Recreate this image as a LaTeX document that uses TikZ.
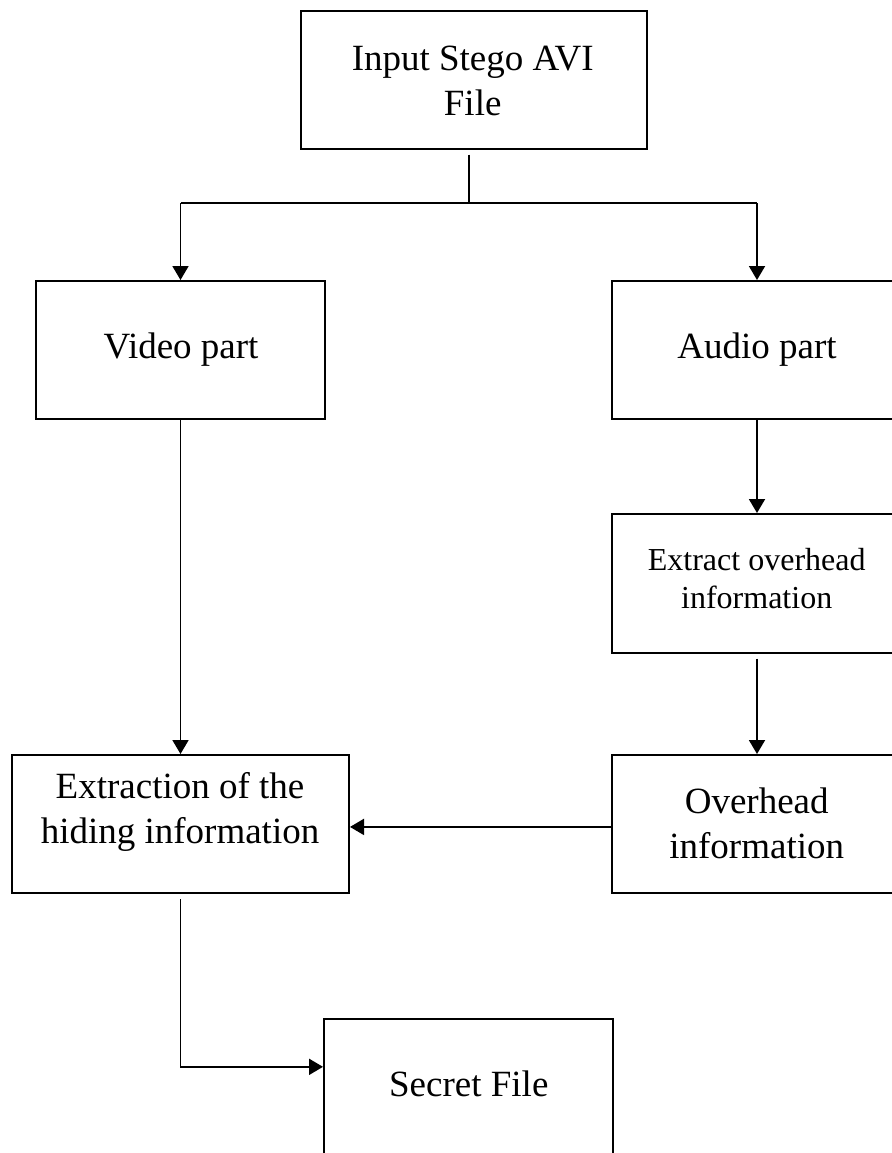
\documentclass[tikz,border=0pt]{standalone}
\usepackage{fontspec}
\setmainfont{Liberation Serif}
\usetikzlibrary{arrows.meta}
\begin{document}
\begin{tikzpicture}[x=0.75pt,y=-0.75pt,
  box/.style={draw=black,line width=1.5pt,rectangle,inner sep=0pt},
  lbl/.style={anchor=base,inner sep=0pt,font=\fontsize{27.75}{33}\selectfont},
  lbls/.style={anchor=base,inner sep=0pt,font=\fontsize{24}{28.5}\selectfont},
  conn/.style={line width=1.4pt},
  arr/.style={conn,-{Triangle[length=10.5pt,width=12pt]}}]
\useasboundingbox (0,0) rectangle (892,1153);
\clip (0,0) rectangle (892,1153);
% boxes
\node[box,minimum width=346*0.75pt,minimum height=138*0.75pt] (in) at (474,80) {};
\node[box,minimum width=289*0.75pt,minimum height=138*0.75pt] (vid) at (180.5,350) {};
\node[box,minimum width=388*0.75pt,minimum height=138*0.75pt] (aud) at (806,350) {};
\node[box,minimum width=388*0.75pt,minimum height=139*0.75pt] (eo) at (806,583.5) {};
\node[box,minimum width=337*0.75pt,minimum height=138*0.75pt] (ext) at (180.5,824) {};
\node[box,minimum width=388*0.75pt,minimum height=138*0.75pt] (oh) at (806,824) {};
\node[box,minimum width=289*0.75pt,minimum height=181*0.75pt] (sf) at (468.5,1109.5) {};
% texts
\node[lbl] (t1a) at (472.7,70.7) {Input Stego AVI};
\node[lbl] (t1b) at (472.7,115) {File};
\node[lbl] (t2) at (181,358) {Video part};
\node[lbl] (t3) at (757,358) {Audio part};
\node[lbls] (t4a) at (756.7,570) {Extract overhead};
\node[lbls] (t4b) at (756.7,608) {information};
\node[lbl] (t5a) at (180,798) {Extraction of the};
\node[lbl] (t5b) at (180,843) {hiding information};
\node[lbl] (t6a) at (756.7,813) {Overhead};
\node[lbl] (t6b) at (756.7,858) {information};
\node[lbl] (t7) at (468.8,1096) {Secret File};
% connectors
\coordinate (j) at (469,203);
\coordinate (jl) at (180.5,203);
\coordinate (jr) at (757,203);
\draw[conn,shorten <=3.5pt] (in.south -| j) -- (j);
\draw[conn] (jl) -- (jr);
\draw[arr] (jl) -- (vid.north);
\draw[arr] (jr) -- (jr |- aud.north);
\draw[arr] (vid.south) -- (ext.north);
\draw[arr] (jr |- aud.south) -- (jr |- eo.north);
\draw[arr,shorten <=3.5pt] (jr |- eo.south) -- (jr |- oh.north);
\draw[arr] ([yshift=-2.2pt]oh.west) -- ([yshift=-2.2pt]ext.east);
\draw[arr,shorten <=4pt] (ext.south) |- ([yshift=32pt]sf.west);
\end{tikzpicture}
\end{document}
